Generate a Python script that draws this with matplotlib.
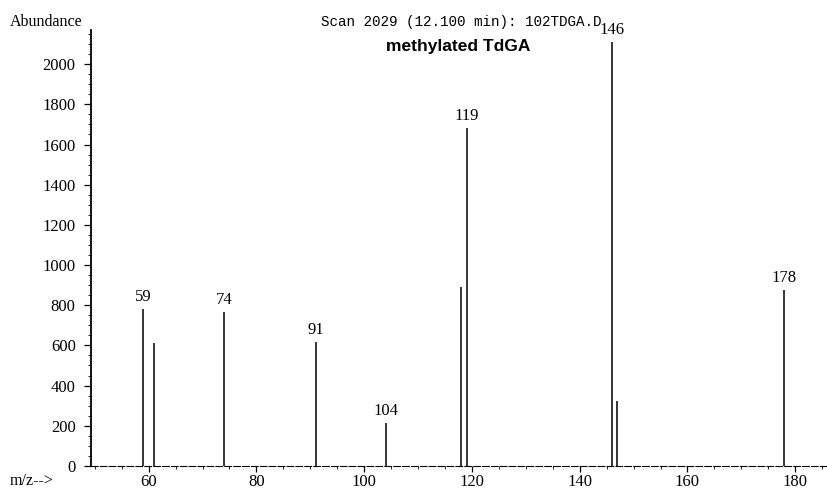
"""
Espectro de masas - TdGA metilado (scan 2029)
"""

import matplotlib
matplotlib.use("Agg")
import matplotlib.pyplot as plt
from matplotlib.ticker import MultipleLocator

mz        = [59, 61, 74, 91, 104, 118, 119, 146, 147, 178]
abundance = [780, 612, 766, 617, 214, 890, 1681, 2110, 323, 876]

# picos que llevan etiqueta
labeled = [59, 74, 91, 104, 119, 146, 178]

y_ticks = [0, 200, 400, 600, 800, 1000, 1200, 1400, 1600, 1800, 2000]
x_ticks = [60, 80, 100, 120, 140, 160, 180]

SERIF = ["Liberation Serif", "DejaVu Serif"]

fig = plt.figure(figsize=(8.27, 4.92), dpi=100)
ax = fig.add_axes([0.110, 0.053, 0.890, 0.886])

ax.vlines(mz, 0, abundance, color="black", linewidth=1.1, clip_on=False)

for m, a in zip(mz, abundance):
    if m in labeled:
        ax.text(m, a + 20, str(m), ha="center", va="bottom",
                fontsize=12, family=SERIF, clip_on=False)

ax.set_xlim(49.3, 185.9)
ax.set_ylim(0, 2170)

ax.set_yticks(y_ticks)
ax.set_xticks(x_ticks)
ax.yaxis.set_minor_locator(MultipleLocator(50))
ax.xaxis.set_minor_locator(MultipleLocator(5))

ax.spines["top"].set_visible(False)
ax.spines["right"].set_visible(False)
ax.spines["left"].set_linewidth(1.3)
ax.spines["bottom"].set_linewidth(0.8)
ax.spines["bottom"].set_linestyle((0, (6, 2)))

ax.tick_params(axis="y", which="major", length=5, width=0.9, labelsize=12, pad=6)
ax.tick_params(axis="y", which="minor", length=2.5, width=0.6)
ax.tick_params(axis="x", which="major", length=4, width=0.9, labelsize=12, pad=2)
ax.tick_params(axis="x", which="minor", length=2, width=0.6)
for lab in ax.get_xticklabels() + ax.get_yticklabels():
    lab.set_family(SERIF)

fig.text(0.012, 0.955, "Abundance", fontsize=11.5, family=SERIF, ha="left", va="center")
fig.text(0.012, 0.022, "m/z-->", fontsize=11.5, family=SERIF, ha="left", va="center")
fig.text(0.558, 0.955, "Scan 2029 (12.100 min): 102TDGA.D", fontsize=10.3,
         family=["Liberation Mono", "DejaVu Sans Mono"], ha="center", va="center")
fig.text(0.554, 0.905, "methylated TdGA", fontsize=12.5, fontweight="bold",
         family=["Liberation Sans", "DejaVu Sans"], ha="center", va="center")

plt.savefig("out.png", dpi=100)
